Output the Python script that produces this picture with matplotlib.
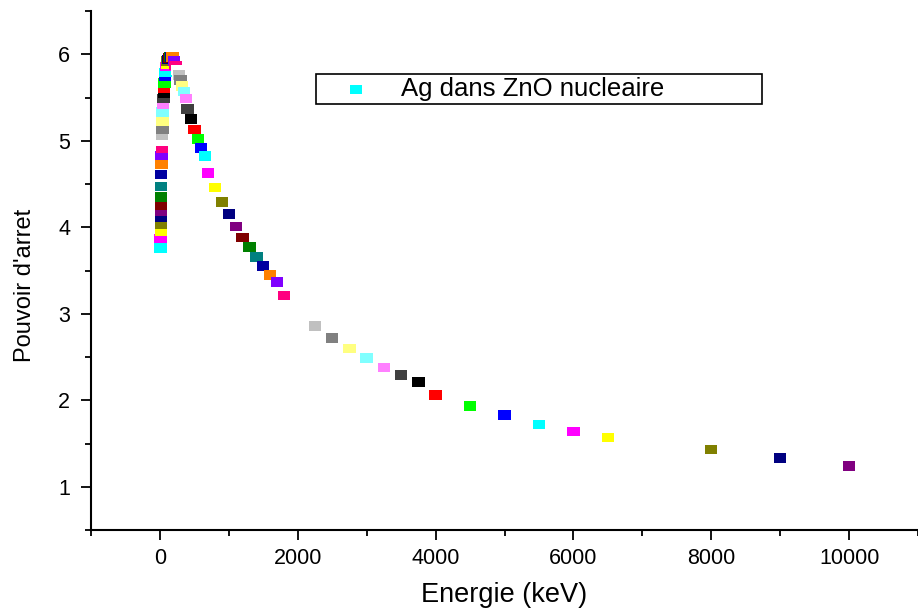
import matplotlib
matplotlib.use("Agg")
import matplotlib.pyplot as plt
from matplotlib.ticker import MultipleLocator

plt.rcParams['font.family'] = ['Liberation Sans', 'DejaVu Sans']

# nuclear stopping of Ag in ZnO (SRIM style energy grid)
energie = [10, 11, 12, 13, 14, 15, 16, 17, 18, 20, 22.5, 25, 27.5, 30, 32.5, 35, 37.5,
           40, 45, 50, 55, 60, 65, 70, 80, 90, 100, 110, 120, 130, 140, 150, 160, 170,
           180, 200, 225, 250, 275, 300, 325, 350, 375, 400, 450, 500, 550, 600, 650,
           700, 800, 900, 1000, 1100, 1200, 1300, 1400, 1500, 1600, 1700, 1800, 2000,
           2250, 2500, 2750, 3000, 3250, 3500, 3750, 4000, 4500, 5000, 5500, 6000,
           6500, 8000, 9000, 10000]
pouvoir = [3.76, 3.87, 3.95, 4.04, 4.12, 4.19, 4.26, 4.35, 4.47, 4.61, 4.73, 4.83, 4.92,
           5.00, 5.07, 5.13, 5.23, 5.33, 5.42, 5.49, 5.55, 5.61, 5.67, 5.75, 5.79, 5.86,
           5.89, 5.92, 5.94, 5.95, 5.96, 5.97, 5.97, 5.97, 5.965, 5.92, 5.87, 5.82, 5.76,
           5.70, 5.63, 5.57, 5.49, 5.37, 5.25, 5.13, 5.02, 4.92, 4.82, 4.63, 4.46, 4.29,
           4.15, 4.01, 3.88, 3.77, 3.66, 3.55, 3.45, 3.37, 3.21, 3.02, 2.86, 2.72, 2.60,
           2.49, 2.38, 2.29, 2.21, 2.06, 1.93, 1.83, 1.72, 1.64, 1.57, 1.43, 1.33, 1.24]
serie = "Ag dans ZnO nucleaire"

# Origin colour increment list, the series starts on cyan
couleurs_origin = ['#000000', '#FF0000', '#00FF00', '#0000FF', '#00FFFF', '#FF00FF',
                   '#FFFF00', '#808000', '#000080', '#800080', '#800000', '#008000',
                   '#008080', '#0000A0', '#FF8000', '#8000FF', '#FF0080', '#FFFFFF',
                   '#C0C0C0', '#808080', '#FFFF80', '#80FFFF', '#FF80FF', '#404040']
debut = 4
couleurs = [couleurs_origin[(debut + i) % len(couleurs_origin)] for i in range(len(energie))]

# slightly wide rectangle marker
rect = [(-0.6, -0.47), (0.6, -0.47), (0.6, 0.47), (-0.6, 0.47), (-0.6, -0.47)]

fig = plt.figure(figsize=(9.18, 6.13), dpi=100)
ax = fig.add_axes([91 / 918, 83 / 613, 827 / 918, 519 / 613])

ax.scatter(energie, pouvoir, c=couleurs, marker=rect, s=8.9 ** 2, linewidths=0,
           label=serie, zorder=3)

ax.set_xlim(-1000, 11000)
ax.set_ylim(0.5, 6.5)
ax.xaxis.set_major_locator(MultipleLocator(2000))
ax.xaxis.set_minor_locator(MultipleLocator(1000))
ax.yaxis.set_major_locator(MultipleLocator(1))
ax.yaxis.set_minor_locator(MultipleLocator(0.5))

for s in ['top', 'right']:
    ax.spines[s].set_visible(False)
for s in ['left', 'bottom']:
    ax.spines[s].set_linewidth(1.5)

ax.tick_params(which='major', direction='out', length=7, width=1.3, labelsize=15.5)
ax.tick_params(which='minor', direction='out', length=4, width=1.3)
ax.tick_params(axis='y', which='major', pad=8)
ax.tick_params(axis='x', which='major', pad=6)

ax.set_xlabel("Energie (keV)", fontsize=19.5)
ax.set_ylabel("Pouvoir d'arret", fontsize=17)
ax.xaxis.set_label_coords(0.5, -0.1)
ax.yaxis.set_label_coords(-0.067, 0.472)

leg = ax.legend(loc='upper left', bbox_to_anchor=(0.272, 0.7457, 0.539, 0.1329),
                mode='expand', borderaxespad=0, fontsize=18.5, scatterpoints=1,
                fancybox=False, framealpha=1, edgecolor='black',
                borderpad=0.12, handlelength=2.9, handletextpad=0.3)
leg.get_frame().set_linewidth(1.2)

fig.savefig("out.png", dpi=100)
